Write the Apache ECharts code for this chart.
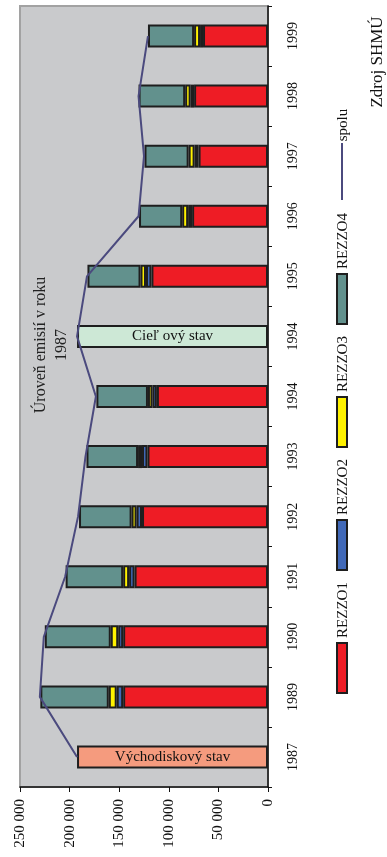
<!DOCTYPE html>
<html>
<head>
<meta charset="utf-8">
<script src="https://cdn.jsdelivr.net/npm/echarts@6/dist/echarts.min.js"></script>
<style>
  html, body { margin: 0; padding: 0; background: #ffffff; }
  #chart { width: 387px; height: 857px; }
</style>
</head>
<body>
<div id="chart"></div>
<script>
// Emise podle kategorií zdrojů REZZO (t/rok)
const categories = ['1987', '1989', '1990', '1991', '1992', '1993', '1994', '1994', '1995', '1996', '1997', '1998', '1999'];
const rezzo1 = ['-', 146000, 146000, 134500, 127000, 121500, 112000, '-', 117500, 76500, 70000, 74500, 65500];
const rezzo2 = ['-', 6500, 5000, 5500, 5500, 5500, 4500, '-', 5500, 4000, 4000, 3500, 3000];
const rezzo3 = ['-', 8000, 7500, 6000, 5000, 4000, 4500, '-', 5500, 6000, 6000, 5500, 6000];
const rezzo4 = ['-', 69000, 66500, 58000, 53000, 52000, 52000, '-', 53500, 43500, 44500, 47000, 46500];
const stav = [192500, '-', '-', '-', '-', '-', '-', 192500, '-', '-', '-', '-', '-'];
const stavLabels = ['Východiskový stav', '', '', '', '', '', '', 'Cieľ ový stav', '', '', '', '', ''];
const spolu = [192500, 230000, 226000, 204500, 191500, 184000, 173500, 192500, 182500, 130500, 125000, 130500, 121000];
const valueTicks = [0, 50000, 100000, 150000, 200000, 250000];

const FONT = 'Liberation Serif';
const colors = {
  r1: '#ee1c25', r2: '#4169b8', r3: '#fff200', r4: '#62918d',
  start: '#f59b7e', target: '#cde8d6', line: '#4b4a7e'
};
const barBorder = { borderColor: '#1e1e1e', borderWidth: 2 };

function fmt(v) {
  return String(v).replace(/\B(?=(\d{3})+(?!\d))/g, ' ');
}

function barSeries(name, data, color) {
  return {
    name: name, type: 'bar', stack: 'emise', data: data, barWidth: 23,
    itemStyle: Object.assign({ color: color }, barBorder)
  };
}

// Legend drawn as rotated graphic items along the right side
const legendItems = [
  { name: 'REZZO1', color: colors.r1 },
  { name: 'REZZO2', color: colors.r2 },
  { name: 'REZZO3', color: colors.r3 },
  { name: 'REZZO4', color: colors.r4 }
];
const legendGraphics = [];
legendItems.forEach(function (it, i) {
  const y0 = 643 - i * 123;
  legendGraphics.push({
    type: 'rect', shape: { x: 337, y: y0, width: 10, height: 50 },
    style: { fill: it.color, stroke: '#1e1e1e', lineWidth: 2 }
  });
  legendGraphics.push({
    type: 'text', x: 343, y: y0 - 33, rotation: Math.PI / 2,
    style: { text: it.name, font: '15px "' + FONT + '"', fill: '#111', align: 'center', verticalAlign: 'middle' }
  });
});
legendGraphics.push({
  type: 'line', shape: { x1: 342, y1: 200, x2: 342, y2: 143 },
  style: { stroke: colors.line, lineWidth: 2 }
});
legendGraphics.push({
  type: 'text', x: 343, y: 125, rotation: Math.PI / 2,
  style: { text: 'spolu', font: '15px "' + FONT + '"', fill: '#111', align: 'center', verticalAlign: 'middle' }
});
legendGraphics.push({
  type: 'text', x: 378, y: 62, rotation: Math.PI / 2,
  style: { text: 'Zdroj SHMÚ', font: '17px "' + FONT + '"', fill: '#111', align: 'center', verticalAlign: 'middle' }
});
legendGraphics.push({
  type: 'text', x: 51, y: 345, rotation: Math.PI / 2,
  style: { text: 'Úroveň emisií v roku\n1987', font: '16px "' + FONT + '"', lineHeight: 21, fill: '#222', align: 'center', verticalAlign: 'middle' }
});

const chart = echarts.init(document.getElementById('chart'), null, { renderer: 'canvas' });
chart.setOption({
  animation: false,
  backgroundColor: '#ffffff',
  grid: {
    left: 20, right: 119, top: 6, bottom: 70,
    show: true, backgroundColor: '#c9cacc', borderColor: '#a2a2a2', borderWidth: 2
  },
  xAxis: {
    type: 'value', inverse: true, min: valueTicks[0], max: valueTicks[valueTicks.length - 1], interval: 50000,
    position: 'bottom',
    splitLine: { show: false },
    axisLine: { show: true, lineStyle: { color: '#111', width: 1.5 } },
    axisTick: { show: true, length: 5, lineStyle: { color: '#111' } },
    axisLabel: {
      rotate: 90, margin: 12, color: '#111', fontFamily: FONT, fontSize: 15,
      formatter: fmt
    }
  },
  yAxis: {
    type: 'category', data: categories, position: 'right',
    axisLine: { show: true, lineStyle: { color: '#111', width: 1.5 } },
    axisTick: { show: true, length: 4, alignWithLabel: false, lineStyle: { color: '#111' } },
    axisLabel: {
      rotate: 90, margin: 18, color: '#111', fontFamily: FONT, fontSize: 14, interval: 0
    }
  },
  series: [
    {
      name: 'stav', type: 'bar', stack: 'emise', data: stav, barWidth: 23,
      itemStyle: Object.assign({
        color: function (p) { return p.dataIndex === 0 ? colors.start : colors.target; }
      }, barBorder),
      label: {
        show: true, position: 'inside', color: '#111', fontFamily: FONT, fontSize: 15,
        formatter: function (p) { return stavLabels[p.dataIndex]; }
      }
    },
    barSeries('REZZO1', rezzo1, colors.r1),
    barSeries('REZZO2', rezzo2, colors.r2),
    barSeries('REZZO3', rezzo3, colors.r3),
    barSeries('REZZO4', rezzo4, colors.r4),
    {
      name: 'spolu', type: 'line', data: spolu, z: 5,
      symbol: 'none', lineStyle: { color: colors.line, width: 2 }
    }
  ],
  graphic: legendGraphics
});
</script>
</body>
</html>
